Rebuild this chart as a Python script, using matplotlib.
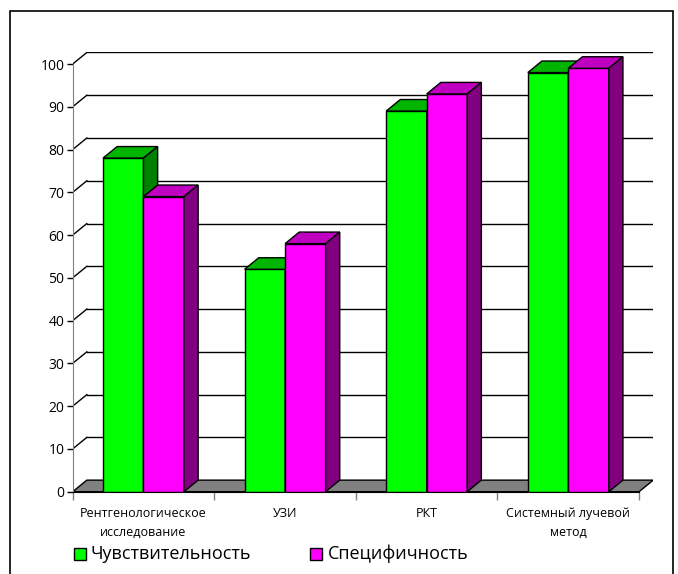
import numpy as np
import matplotlib.pyplot as plt
from matplotlib.patches import Polygon, Rectangle

plt.rcParams["font.family"] = ["Open Sans", "DejaVu Sans"]

categories = ["Рентгенологическое\nисследование", "УЗИ", "РКТ", "Системный лучевой\nметод"]
series_names = ["Чувствительность", "Специфичность"]
sensitivity = [78, 52, 89, 98]
specificity = [69, 58, 93, 99]
yticks = list(range(0, 101, 10))

# face colours: front, top, side
green = ["#00ff00", "#00b400", "#008000"]
magenta = ["#ff00ff", "#c000c0", "#800080"]

dx = 0.1     # depth offset along x (category units)
dy = 2.7     # depth offset along y (value units)
bar_w = 0.286
n = len(categories)

fig = plt.figure(figsize=(6.78, 5.74), dpi=100)
ax = fig.add_axes([0.1072, 0.1434, 0.8563, 0.7652])
ax.set_xlim(0, n + dx)
ax.set_ylim(0, 100 + dy)

# back wall gridlines with the diagonal joins to the value axis
for v in yticks[1:]:
    ax.plot([dx, n + dx], [v + dy, v + dy], color="black", lw=1, zorder=1)
    ax.plot([0, dx], [v, v + dy], color="black", lw=1, zorder=1)

# floor
floor = Polygon([(0, 0), (n, 0), (n + dx, dy), (dx, dy)], closed=True,
                facecolor="#808080", edgecolor="black", lw=1, zorder=2)
ax.add_patch(floor)


def box(x0, h, cols):
    front = Polygon([(x0, 0), (x0 + bar_w, 0), (x0 + bar_w, h), (x0, h)])
    top = Polygon([(x0, h), (x0 + bar_w, h), (x0 + bar_w + dx, h + dy), (x0 + dx, h + dy)])
    side = Polygon([(x0 + bar_w, 0), (x0 + bar_w + dx, dy), (x0 + bar_w + dx, h + dy), (x0 + bar_w, h)])
    for p, c in zip([front, top, side], cols):
        p.set_facecolor(c)
        p.set_edgecolor("black")
        p.set_linewidth(1)
        p.set_zorder(3)
        ax.add_patch(p)


for i in range(n):
    start = i + 0.5 - bar_w
    box(start, sensitivity[i], green)
    box(start + bar_w, specificity[i], magenta)

for s in ["top", "right"]:
    ax.spines[s].set_visible(False)
ax.spines["left"].set_bounds(0, 100)
ax.spines["left"].set_color("#808080")
ax.spines["bottom"].set_bounds(0, n)
ax.spines["bottom"].set_color("black")
ax.spines["bottom"].set_zorder(4)

ax.set_yticks(yticks)
ax.set_yticklabels([str(v) for v in yticks], fontsize=10)
ax.tick_params(axis="y", length=4, width=1, pad=2, color="black")

ax.set_xticks(np.arange(0, n + 1))
ax.set_xticklabels([])
ax.set_xticks(np.arange(n) + 0.5, minor=True)
ax.set_xticklabels(categories, minor=True, fontsize=9, linespacing=1.55)
ax.tick_params(axis="x", which="major", length=6, width=1, color="#808080")
ax.tick_params(axis="x", which="minor", length=0, pad=11)

# outer chart border
fig.patches.append(Rectangle((10 / 678, -0.1), 663 / 678, 1.1 - 11 / 574,
                             transform=fig.transFigure, fill=False,
                             edgecolor="black", lw=1.2))

# legend
fig.patches.append(Rectangle((74 / 678, 1 - 560 / 574), 12 / 678, 12 / 574,
                             transform=fig.transFigure, facecolor=green[0],
                             edgecolor="black", lw=1))
fig.text(91 / 678, 1 - 554 / 574, series_names[0], fontsize=13, va="center")
fig.patches.append(Rectangle((310 / 678, 1 - 560 / 574), 12 / 678, 12 / 574,
                             transform=fig.transFigure, facecolor=magenta[0],
                             edgecolor="black", lw=1))
fig.text(328 / 678, 1 - 554 / 574, series_names[1], fontsize=13, va="center")

fig.savefig("out.png", dpi=100)
